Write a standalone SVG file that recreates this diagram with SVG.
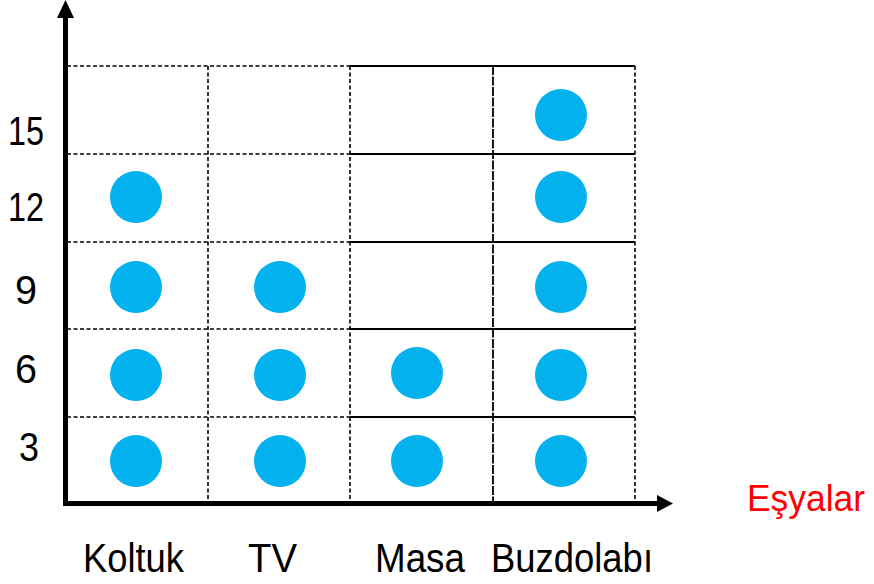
<svg xmlns="http://www.w3.org/2000/svg" width="874" height="584" viewBox="0 0 874 584">
<style>
.dash{stroke:#000;stroke-width:1.6;stroke-dasharray:4 2.5;fill:none}
.solid{stroke:#000;stroke-width:2;fill:none}
.dd{stroke:#000;stroke-width:1.8;stroke-dasharray:9 1.5;fill:none}
.axis{stroke:#000;stroke-width:5;fill:none}
.dot{fill:#03B1EF}
.lbl{font-family:"Liberation Sans",Arial,sans-serif;font-size:41px;fill:#000}
.title{font-family:"Liberation Sans",Arial,sans-serif;font-size:36px;fill:#FF0000}
</style>
<rect width="874" height="584" fill="#fff"/>
<g id="grid">
<line class="dash" x1="67" y1="66" x2="350" y2="66"/>
<line class="dash" x1="67" y1="154" x2="350" y2="154"/>
<line class="dash" x1="67" y1="242" x2="350" y2="242"/>
<line class="dash" x1="67" y1="329" x2="350" y2="329"/>
<line class="dash" x1="67" y1="417" x2="350" y2="417"/>
<line class="solid" x1="350" y1="66" x2="635" y2="66"/>
<line class="solid" x1="350" y1="154" x2="635" y2="154"/>
<line class="solid" x1="350" y1="242" x2="635" y2="242"/>
<line class="solid" x1="350" y1="329" x2="635" y2="329"/>
<line class="solid" x1="350" y1="417" x2="635" y2="417"/>
<line class="dash" x1="208" y1="66" x2="208" y2="501"/>
<line class="dash" x1="350" y1="66" x2="350" y2="501"/>
<line class="dd" x1="493" y1="66" x2="493" y2="501"/>
<line class="dash" x1="635" y1="66" x2="635" y2="501"/>
</g>
<g id="axes">
<line class="axis" x1="65.5" y1="506" x2="65.5" y2="16"/>
<polygon points="57,18 65.5,0 74,18" fill="#000"/>
<line class="axis" x1="63" y1="503.5" x2="659" y2="503.5"/>
<polygon points="657,495 673,503.5 657,512" fill="#000"/>
</g>
<g id="dots">
<circle class="dot" cx="136" cy="461" r="26"/>
<circle class="dot" cx="136" cy="375" r="26"/>
<circle class="dot" cx="136" cy="287" r="26"/>
<circle class="dot" cx="136" cy="197" r="26"/>
<circle class="dot" cx="280" cy="461" r="26"/>
<circle class="dot" cx="280" cy="375" r="26"/>
<circle class="dot" cx="280" cy="287" r="26"/>
<circle class="dot" cx="417" cy="461" r="26"/>
<circle class="dot" cx="417" cy="373" r="26"/>
<circle class="dot" cx="561" cy="461" r="26"/>
<circle class="dot" cx="561" cy="375" r="26"/>
<circle class="dot" cx="561" cy="287" r="26"/>
<circle class="dot" cx="561" cy="197" r="26"/>
<circle class="dot" cx="561" cy="115" r="26"/>
</g>
<g id="y-labels">
<text class="lbl" x="8" y="145" textLength="36" lengthAdjust="spacingAndGlyphs">15</text>
<text class="lbl" x="8" y="221" textLength="36" lengthAdjust="spacingAndGlyphs">12</text>
<text class="lbl" x="15" y="304" textLength="22" lengthAdjust="spacingAndGlyphs">9</text>
<text class="lbl" x="15" y="383" textLength="22" lengthAdjust="spacingAndGlyphs">6</text>
<text class="lbl" x="19" y="461" textLength="20" lengthAdjust="spacingAndGlyphs">3</text>
</g>
<g id="x-labels">
<text class="lbl" x="83" y="572" textLength="101" lengthAdjust="spacingAndGlyphs">Koltuk</text>
<text class="lbl" x="248" y="572" textLength="49" lengthAdjust="spacingAndGlyphs">TV</text>
<text class="lbl" x="375" y="572" textLength="90" lengthAdjust="spacingAndGlyphs">Masa</text>
<text class="lbl" x="491" y="572" textLength="162" lengthAdjust="spacingAndGlyphs">Buzdolabı</text>
<text class="title" x="747" y="511" textLength="118" lengthAdjust="spacingAndGlyphs">Eşyalar</text>
</g>
</svg>
